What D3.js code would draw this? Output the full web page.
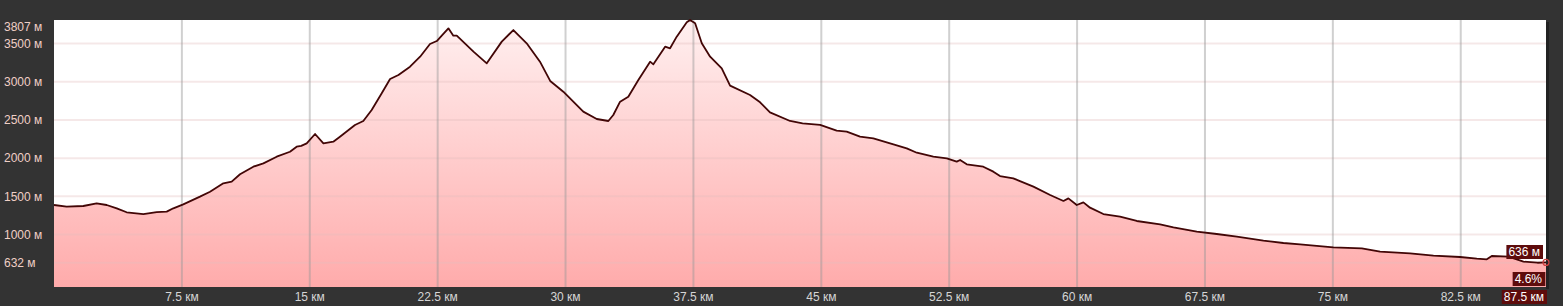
<!DOCTYPE html>
<html>
<head>
<meta charset="utf-8">
<script src="https://cdn.jsdelivr.net/npm/d3@7"></script>
<style>
  body { margin: 0; background: #333333; }
  svg { display: block; font-family: Arial, "Liberation Sans", sans-serif; }
</style>
</head>
<body>
<div id="profile"></div>
<script>
// distance along the track, km
const distKm = [0, 0.74, 1.72, 2.5, 3.09, 3.68, 4.26, 5.24, 6.02, 6.61, 7.0, 7.58, 8.56, 9.15, 9.93,
  10.42, 10.91, 11.69, 12.28, 13.06, 13.84, 14.23, 14.5, 14.82, 15.31, 15.8, 16.38, 16.77, 17.65,
  18.14, 18.63, 19.22, 19.71, 20.2, 20.88, 21.47, 22.05, 22.45, 22.74, 23.13, 23.42, 23.62, 24.6,
  25.38, 26.26, 26.94, 27.72, 28.5, 29.1, 29.87, 31.04, 31.83, 32.51, 32.8, 33.2, 33.68, 34.27,
  34.96, 35.15, 35.84, 36.13, 36.52, 37.11, 37.3, 37.6, 37.99, 38.48, 39.16, 39.65, 40.82, 41.41,
  41.99, 43.17, 43.9, 44.93, 45.9, 46.49, 47.27, 48.05, 49.23, 50.01, 50.6, 51.57, 52.36, 52.94,
  53.14, 53.53, 54.5, 55.09, 55.48, 56.26, 57.44, 58.42, 59.2, 59.49, 59.98, 60.37, 60.76, 61.54,
  62.52, 63.5, 64.87, 65.65, 67.02, 68.19, 69.37, 70.93, 72.1, 73.08, 75.03, 76.7, 77.77, 79.53,
  80.9, 82.46, 83.44, 84.03, 84.32, 85.3, 86.18, 87.0, 87.5];
// elevation, m
const elevM = [1387, 1365, 1374, 1409, 1387, 1344, 1292, 1269, 1295, 1300, 1344, 1396, 1496, 1561, 1671,
  1693, 1789, 1888, 1932, 2019, 2084, 2150, 2160, 2194, 2316, 2194, 2215, 2281, 2434,
  2486, 2630, 2848, 3035, 3088, 3196, 3327, 3493, 3532, 3602, 3698, 3602, 3602, 3393,
  3240, 3524, 3676, 3502, 3262, 3010, 2869, 2608, 2512, 2486, 2564, 2739, 2804, 3022,
  3262, 3227, 3458, 3437, 3589, 3777, 3807, 3764, 3502, 3327, 3175, 2948, 2826, 2730,
  2599, 2486, 2455, 2434, 2359, 2346, 2281, 2259, 2181, 2128, 2071, 2019, 1998, 1954,
  1976, 1919, 1888, 1823, 1766, 1736, 1627, 1518, 1440, 1474, 1387, 1422, 1352, 1269,
  1234, 1178, 1134, 1095, 1038, 1008, 973, 920, 890, 873, 834, 821, 776, 755,
  724, 707, 685, 677, 720, 711, 646, 632, 636];

const yTicks = [3807, 3500, 3000, 2500, 2000, 1500, 1000, 632];
const xTicks = [7.5, 15, 22.5, 30, 37.5, 45, 52.5, 60, 67.5, 75, 82.5];
const endLabels = ["636 м", "4.6%", "87.5 км"];

const W = 1563, H = 306;
const margin = { top: 20, right: 17, bottom: 19, left: 54 };

const svg = d3.select("#profile")
    .append("svg")
    .attr("width", W)
    .attr("height", H);

const x = d3.scaleLinear()
    .domain([0, 87.5])
    .range([margin.left, W - margin.right]);

const yMin = 632 - (3807 - 632) * 0.1;
const y = d3.scaleLinear()
    .domain([yMin, 3807])
    .range([H - margin.bottom, margin.top]);

const pts = distKm.map((d, i) => [d, elevM[i]]);

// background panel
svg.append("rect")
    .attr("x", x(0)).attr("y", y(3807))
    .attr("width", x(87.5) - x(0))
    .attr("height", y(yMin) - y(3807))
    .attr("fill", "#ffffff");
// shadow at the right edge
svg.append("rect")
    .attr("x", x(87.5)).attr("y", y(3807) + 2)
    .attr("width", 3)
    .attr("height", y(yMin) - y(3807))
    .attr("fill", "#222");

const grad = svg.append("defs").append("linearGradient")
    .attr("id", "fillGrad")
    .attr("gradientUnits", "userSpaceOnUse")
    .attr("x1", 0).attr("x2", 0)
    .attr("y1", y(3807)).attr("y2", y(yMin));
grad.append("stop").attr("offset", "0%").attr("stop-color", "#fff0f0");
grad.append("stop").attr("offset", "100%").attr("stop-color", "#ffabab");

const area = d3.area()
    .x(d => x(d[0]))
    .y0(y(yMin))
    .y1(d => y(d[1]));

svg.append("path")
    .datum(pts)
    .attr("d", area)
    .attr("fill", "url(#fillGrad)");

// grid
svg.append("g")
    .selectAll("line")
    .data(yTicks.filter(v => v < 3807))
    .enter()
    .append("line")
    .attr("x1", x(0)).attr("x2", x(87.5))
    .attr("y1", d => y(d)).attr("y2", d => y(d))
    .attr("stroke", "rgba(225,190,190,0.35)")
    .attr("stroke-width", 2);

svg.append("g")
    .selectAll("line")
    .data(xTicks)
    .enter()
    .append("line")
    .attr("x1", d => x(d)).attr("x2", d => x(d))
    .attr("y1", y(3807)).attr("y2", y(yMin))
    .attr("stroke", "rgba(150,150,150,0.45)")
    .attr("stroke-width", 2);

// profile line
svg.append("path")
    .datum(pts)
    .attr("d", d3.line().x(d => x(d[0])).y(d => y(d[1])))
    .attr("fill", "none")
    .attr("stroke", "#420606")
    .attr("stroke-width", 1.8)
    .attr("stroke-linejoin", "round");

// y labels
svg.append("g")
    .selectAll("text")
    .data(yTicks)
    .enter()
    .append("text")
    .attr("x", 4)
    .attr("y", d => Math.max(y(d), 27))
    .attr("dy", "0.35em")
    .attr("fill", "#f0cfc6")
    .attr("font-size", 12)
    .text(d => d + " м");

// x labels
svg.append("g")
    .selectAll("text")
    .data(xTicks)
    .enter()
    .append("text")
    .attr("x", d => x(d))
    .attr("y", 297)
    .attr("dy", "0.35em")
    .attr("text-anchor", "middle")
    .attr("fill", "#d6d6d6")
    .attr("font-size", 12)
    .text(d => d + " км");

// end marker
const last = pts[pts.length - 1];
svg.append("circle")
    .attr("cx", x(last[0]))
    .attr("cy", y(last[1]))
    .attr("r", 3)
    .attr("fill", "none")
    .attr("stroke", "#d04040")
    .attr("stroke-width", 1.2);

// value boxes on the right
const boxes = [
    { text: endLabels[0], right: 1543, cy: 252 },
    { text: endLabels[1], right: 1545, cy: 279 },
    { text: endLabels[2], right: 1547, cy: 297 }
];
boxes.forEach(b => {
    const g = svg.append("g");
    const t = g.append("text")
        .attr("x", b.right - 3)
        .attr("y", b.cy)
        .attr("dy", "0.35em")
        .attr("text-anchor", "end")
        .attr("fill", "#ffffff")
        .attr("font-size", 12)
        .text(b.text);
    const bb = t.node().getBBox();
    g.insert("rect", "text")
        .attr("x", bb.x - 2)
        .attr("y", b.cy - 7)
        .attr("width", bb.width + 5)
        .attr("height", 14)
        .attr("fill", "#5e0c0c");
});
</script>
</body>
</html>
